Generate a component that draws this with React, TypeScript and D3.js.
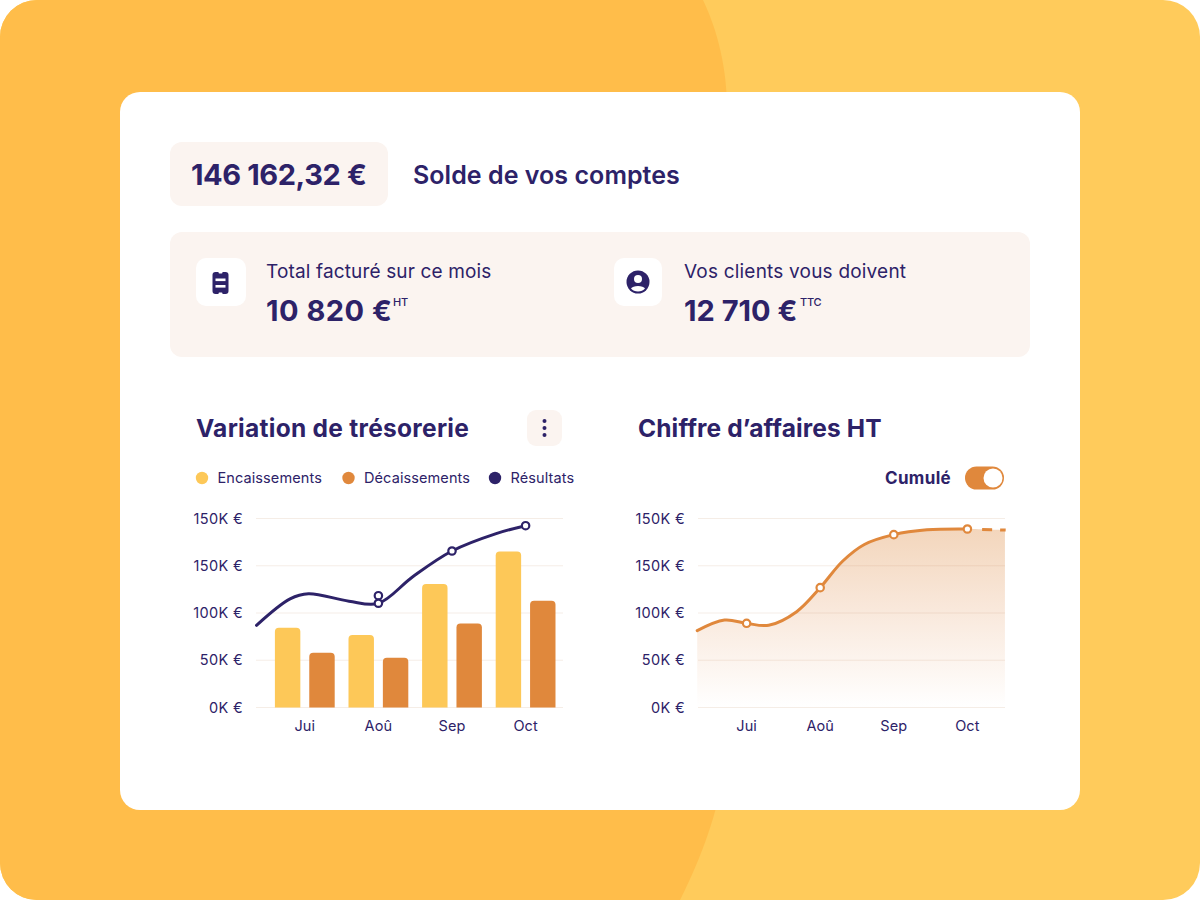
import React from "react";
import * as d3 from "d3";

const months = ["Jui", "Aoû", "Sep", "Oct"];
const yTickValues = [0, 50, 100, 150, 200];
const yTickLabels = ["0K €", "50K €", "100K €", "150K €", "150K €"];
const encaissements = [84.4, 76.7, 130.7, 165];
const decaissements = [58, 52.7, 89, 113];
const resultPos = [-0.656, -0.2, 0.05, 0.6, 1, 1.467, 2, 2.6, 3];
const resultVal = [87, 115, 120.4, 112.5, 110.3, 138.4, 165.6, 184, 192.4];
const resultDots: [number, number][] = [[1, 118.3], [1, 110.3], [2, 165.6], [3, 192.4]];
const caPos = [-0.671, -0.3, 0, 0.3, 0.68, 1, 1.3, 1.6, 2, 2.45, 3];
const caVal = [81.3, 92.5, 89.1, 87, 101.4, 126.8, 154.5, 172.5, 182.9, 188, 188.9];
const caDashPos = [3.2, 3.52];
const caDashVal = [188.4, 187.8];
const caAreaEndPos = 3.51;
const legendItems = ["Encaissements", "Décaissements", "Résultats"];

const INK = "#2D2268";
const YEL = "#FDC858";
const ORA = "#E0883C";
const SOFT = "#FBF4F0";
const GRID = "rgba(190,140,100,0.16)";
const FONT = "'Inter', 'Noto Sans', sans-serif";

const yScale = d3.scaleLinear().domain([0, 200]).range([707.5, 518.5]);

function YAxis({ x1, x2, labelX }: { x1: number; x2: number; labelX: number }) {
  return (
    <g>
      {yTickValues.map((v, i) => (
        <g key={i}>
          <line x1={x1} x2={x2} y1={yScale(v)} y2={yScale(v)} stroke={GRID} strokeWidth={1.2} />
          <text x={labelX} y={yScale(v) + 5} textAnchor="end" fontSize={14.5} fill={INK} fontFamily={FONT} letterSpacing={0.35}>
            {yTickLabels[i]}
          </text>
        </g>
      ))}
    </g>
  );
}

function MonthLabels({ x }: { x: d3.ScaleLinear<number, number> }) {
  return (
    <g>
      {months.map((m, i) => (
        <text key={m} x={x(i)} y={731} textAnchor="middle" fontSize={14.5} fill={INK} fontFamily={FONT} letterSpacing={0.1}>
          {m}
        </text>
      ))}
    </g>
  );
}

function Dot({ cx, cy, stroke }: { cx: number; cy: number; stroke: string }) {
  return <circle cx={cx} cy={cy} r={3.7} fill="#fff" stroke={stroke} strokeWidth={2.2} />;
}

function Txt({ x, y, size, weight = 400, children, ls = 0, anchor = "start" }: any) {
  return (
    <text x={x} y={y} fontSize={size} fontWeight={weight} fill={INK} fontFamily={FONT} letterSpacing={ls} textAnchor={anchor}>
      {children}
    </text>
  );
}

export default function App() {
  const x1 = d3.scaleLinear().domain([0, 3]).range([304.8, 525.6]);
  const x2 = d3.scaleLinear().domain([0, 3]).range([746.6, 967.4]);
  const band = d3.scaleBand<string>().domain(months).range([x1(0) - 36.8, x1(3) + 36.8]);
  const inner = d3
    .scaleBand<string>()
    .domain(["enc", "dec"])
    .range([band.bandwidth() / 2 - 29.9, band.bandwidth() / 2 + 29.9])
    .paddingInner(0.26);

  const curve = d3.curveCatmullRom.alpha(0.5);
  const resultPts = resultPos.map((p, i) => [x1(p), yScale(resultVal[i])] as [number, number]);
  const linePath = d3.line().curve(curve)(resultPts) || "";
  const caPts = caPos.map((p, i) => [x2(p), yScale(caVal[i])] as [number, number]);
  const caLine = d3.line().curve(curve)(caPts) || "";
  const caAreaPts = [...caPts, [x2(caAreaEndPos), yScale(caDashVal[1])] as [number, number]];
  const caArea =
    d3
      .area<[number, number]>()
      .curve(curve)
      .x((d) => d[0])
      .y0(yScale(0))
      .y1((d) => d[1])(caAreaPts) || "";
  const caDash = d3.line()(caDashPos.map((p, i) => [x2(p), yScale(caDashVal[i])] as [number, number])) || "";

  const round = (x: number, y: number, w: number, h: number, r: number) =>
    `M${x},${y + h}V${y + r}Q${x},${y} ${x + r},${y}H${x + w - r}Q${x + w},${y} ${x + w},${y + r}V${y + h}Z`;

  return (
    <svg width={1200} height={900} viewBox="0 0 1200 900" style={{ position: "fixed", left: 0, top: 0, display: "block" }}>
      <defs>
        <clipPath id="outer">
          <rect x={0} y={0} width={1200} height={900} rx={37} />
        </clipPath>
        <linearGradient id="caFill" x1="0" y1="0" x2="0" y2="1">
          <stop offset="0%" stopColor="#F3D6BC" />
          <stop offset="45%" stopColor="#F9E8DB" />
          <stop offset="100%" stopColor="#FFFFFF" />
        </linearGradient>
      </defs>
      <rect width={1200} height={900} fill="#fff" />
      <g clipPath="url(#outer)">
        <rect width={1200} height={900} fill="#FFCB5B" />
        <path d="M0,0H703C722,40 727,80 727,110V730C727,790 705,850 680,900H0Z" fill="#FFBD4A" />
      </g>
      <rect x={120} y={92} width={960} height={718} rx={20} fill="#fff" />

      <rect x={170} y={142} width={218} height={64} rx={12} fill={SOFT} />
      <Txt x={191} y={185} size={29} weight={700} ls={-0.4}>146 162,32 €</Txt>
      <Txt x={413} y={184} size={25} weight={600} ls={0.05}>Solde de vos comptes</Txt>

      <rect x={170} y={232} width={860} height={125} rx={12} fill={SOFT} />
      <rect x={196} y={258} width={50} height={48} rx={10} fill="#fff" />
      <rect x={614} y={258} width={48} height={48} rx={10} fill="#fff" />
      <rect x={212.5} y={272} width={16} height={22} rx={3} fill={INK} />
      <rect x={218.5} y={271} width={4} height={2.4} rx={1} fill="#fff" />
      <rect x={218.5} y={292.6} width={4} height={2.4} rx={1} fill="#fff" />
      <rect x={215.5} y={278.5} width={10} height={2.6} fill="#fff" />
      <rect x={215.5} y={285} width={10} height={2.6} fill="#fff" />
      <circle cx={638} cy={282} r={11.5} fill={INK} />
      <circle cx={638} cy={279} r={4} fill="#fff" />
      <path d="M631,288.5c1.5,-3.5 12.5,-3.5 14,0c-3,4 -11,4 -14,0z" fill="#fff" />

      <Txt x={266} y={278} size={19} ls={0.15}>Total facturé sur ce mois</Txt>
      <Txt x={266} y={321} size={29} weight={700} ls={0.5}>10 820 €</Txt>
      <Txt x={393} y={306} size={11} weight={500} ls={-0.3}>HT</Txt>
      <Txt x={684} y={278} size={19} ls={0.2}>Vos clients vous doivent</Txt>
      <Txt x={684} y={321} size={29} weight={700} ls={0}>12 710 €</Txt>
      <Txt x={800} y={306} size={11} weight={500} ls={-0.3}>TTC</Txt>

      <Txt x={196} y={437} size={24.5} weight={700} ls={0.28}>Variation de trésorerie</Txt>
      <rect x={527} y={410} width={35} height={36} rx={9} fill={SOFT} />
      {[421, 428, 435].map((cy) => (
        <circle key={cy} cx={544.5} cy={cy} r={2} fill={INK} />
      ))}

      {legendItems.map((t, i) => {
        const cx = [202, 348.5, 495][i];
        const col = [YEL, ORA, INK][i];
        return (
          <g key={t}>
            <circle cx={cx} cy={478} r={6.2} fill={col} />
            <Txt x={cx + 15.5} y={483} size={14.5} ls={0.1}>{t}</Txt>
          </g>
        );
      })}

      <YAxis x1={256} x2={563} labelX={243} />
      {months.map((m, i) => (
        <g key={m} transform={`translate(${band(m)},0)`}>
          <path d={round(inner("enc")!, yScale(encaissements[i]), inner.bandwidth(), yScale(0) - yScale(encaissements[i]), 4)} fill={YEL} />
          <path d={round(inner("dec")!, yScale(decaissements[i]), inner.bandwidth(), yScale(0) - yScale(decaissements[i]), 4)} fill={ORA} />
        </g>
      ))}
      <path d={linePath} fill="none" stroke={INK} strokeWidth={3} strokeLinecap="round" />
      {resultDots.map(([p, v], i) => (
        <Dot key={i} cx={x1(p)} cy={yScale(v)} stroke={INK} />
      ))}
      <MonthLabels x={x1} />

      <Txt x={638} y={437} size={24.5} weight={700} ls={0.12}>Chiffre d’affaires HT</Txt>
      <Txt x={885} y={484} size={17} weight={700} ls={0.35}>Cumulé</Txt>
      <rect x={965} y={466.5} width={39} height={23} rx={11.5} fill={ORA} />
      <circle cx={993} cy={478} r={9.5} fill="#fff" />

      <path d={caArea} fill="url(#caFill)" />
      <YAxis x1={698} x2={1005} labelX={685} />
      <path d={caLine} fill="none" stroke={ORA} strokeWidth={3} strokeLinecap="round" />
      <path d={caDash} fill="none" stroke={ORA} strokeWidth={3} strokeDasharray="10 8" />
      {[0, 1, 2, 3].map((m) => {
        const idx = caPos.indexOf(m);
        return <Dot key={m} cx={x2(m)} cy={yScale(caVal[idx])} stroke={ORA} />;
      })}
      <MonthLabels x={x2} />
    </svg>
  );
}
